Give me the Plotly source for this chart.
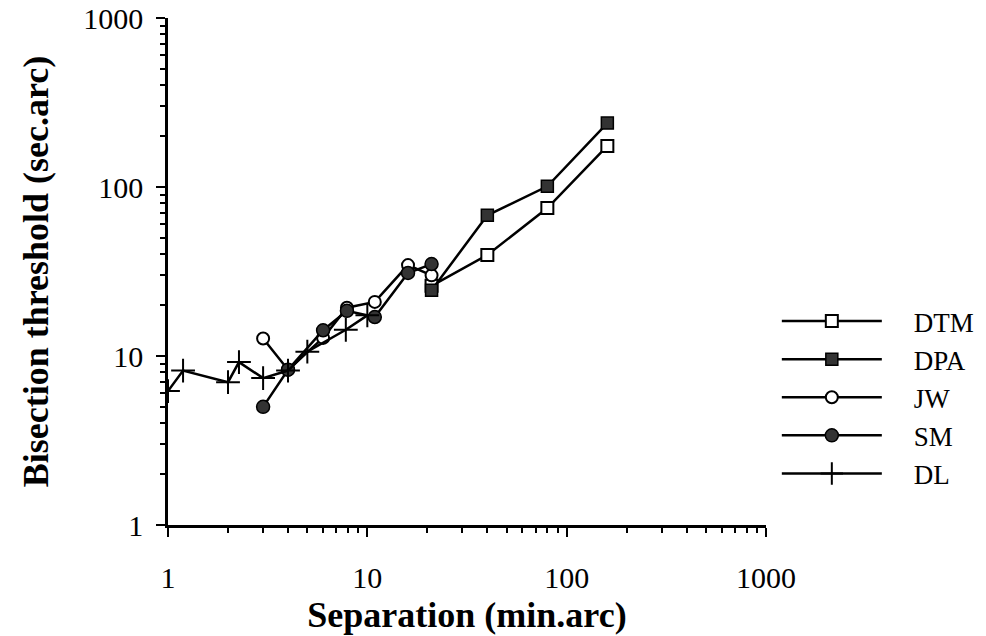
import plotly.graph_objects as go

# Data (log-log)
dtm_x = [21, 40, 80, 160]
dtm_y = [26, 39.6, 75, 175]

dpa_x = [21, 40, 80, 160]
dpa_y = [24.5, 68, 101, 239]

jw_x = [3, 4, 6, 7.9, 10.9, 16, 21]
jw_y = [12.7, 8.3, 12.8, 19.3, 20.9, 34.5, 30]

sm_x = [3, 4, 6, 7.9, 10.9, 16, 21]
sm_y = [5.0, 8.3, 14.2, 18.5, 17.0, 31, 35]

dl_x = [1, 1.19, 2, 2.27, 3, 4, 5, 7.8, 10]
dl_y = [6.2, 8.2, 7.0, 9.2, 7.4, 8.2, 10.6, 14.3, 17.4]

x_ticks = [1, 10, 100, 1000]
y_ticks = [1, 10, 100, 1000]

serif = "Liberation Serif, Times New Roman, serif"
LINE = dict(color="black", width=2.5)
PAD = "\u00a0" * 4

fig = go.Figure()

def add(name, x, y, symbol, fill, size, mlw):
    fig.add_trace(go.Scatter(
        x=x, y=y, name=PAD + name, mode="lines+markers", legendgroup=name,
        line=LINE,
        marker=dict(symbol=symbol, size=size, color=fill,
                    line=dict(color="black", width=mlw)),
    ))

add("DTM", dtm_x, dtm_y, "square", "white", 12, 2)
add("DPA", dpa_x, dpa_y, "square", "#333333", 12, 1.5)
add("JW", jw_x, jw_y, "circle", "white", 12, 2)
add("SM", sm_x, sm_y, "circle", "#333333", 13, 1.5)
add("DL", dl_x, dl_y, "cross-thin", "black", 17, 2)

axis_common = dict(
    type="log", showgrid=False, zeroline=False, automargin=False,
    showline=True, linecolor="black", linewidth=2.5,
    ticks="outside", ticklen=9, tickwidth=2, tickcolor="black",
    tickfont=dict(family=serif, size=30, color="black"),
    minor=dict(ticks="outside", ticklen=5, tickwidth=1.5, tickcolor="black",
               dtick="D1", showgrid=False),
    mirror=False,
)

fig.update_layout(
    width=986, height=636,
    margin=dict(l=168, r=10, t=18, b=111, autoexpand=False),
    plot_bgcolor="white", paper_bgcolor="white",
    xaxis=dict(**axis_common, range=[0, 3], domain=[0, 598 / 808],
               tickvals=x_ticks, ticktext=[str(v) for v in x_ticks],
               ticklabelstandoff=15,
               title=dict(text="<b>Separation (min.arc)</b>",
                          font=dict(family=serif, size=36, color="black"),
                          standoff=10)),
    yaxis=dict(**axis_common, range=[0, 3],
               tickvals=y_ticks, ticktext=[str(v) for v in y_ticks],
               ticklabelstandoff=7,
               title=dict(text="<b>Bisection threshold (sec.arc)</b>",
                          font=dict(family=serif, size=36, color="black"),
                          standoff=24)),
    showlegend=True,
    legend=dict(
        x=0.7535, y=0.4497, xanchor="left", yanchor="top",
        font=dict(family=serif, size=27, color="black"),
        tracegroupgap=0, itemwidth=100,
        bgcolor="rgba(0,0,0,0)",
    ),
)

fig.write_html("out.html")
